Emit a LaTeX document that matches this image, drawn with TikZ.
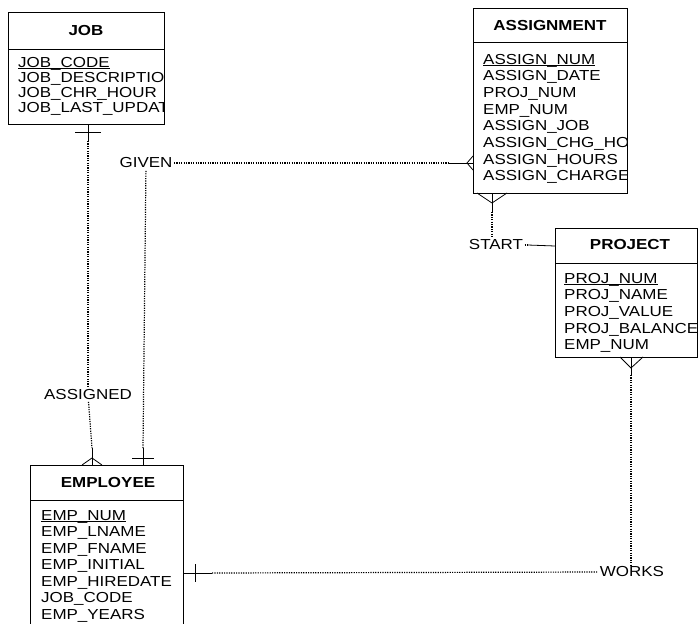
\documentclass[tikz,border=0pt]{standalone}
\usepackage{fontspec}
\setmainfont{Liberation Sans}[FakeStretch=1.17]
\usetikzlibrary{calc}
\newcommand{\pkey}[1]{\underline{\smash{#1}}}
\tikzset{
	tbl/.style={draw, line width=0.8pt, anchor=north west, inner sep=0pt},
	hdr/.style={inner sep=0pt, font=\fontsize{14.5}{16}\selectfont\bfseries},
	attr/.style={anchor=base west, inner sep=0pt, font=\fontsize{14.5}{16}\selectfont},
	rel/.style={inner sep=1.5pt, font=\fontsize{14.5}{16}\selectfont},
	solidline/.style={line width=0.8pt},
	dotline/.style={line width=1.2pt, dash pattern=on 1.2pt off 1.2pt}
}
\begin{document}
\begin{tikzpicture}[x=1pt, y=-1pt]
	\useasboundingbox (0,0) rectangle (699,624);

	% tables
	\node[tbl, minimum width=156pt, minimum height=112pt] (job) at (8,12) {};
	\draw[solidline] (8,49) -- (164,49);
	\node[hdr] (jobH) at (86,31) {JOB};
	\begin{scope}
		\clip (8,12) rectangle (164,124);
		\foreach \t [count=\i from 0] in {\pkey{JOB\_CODE}, JOB\_DESCRIPTION, JOB\_CHR\_HOUR, JOB\_LAST\_UPDATE}
			\node[attr] (job-\i) at (18,67+15.3*\i) {\t};
	\end{scope}

	\node[tbl, minimum width=154pt, minimum height=185pt] (asg) at (473,8) {};
	\draw[solidline] (473,42) -- (627,42);
	\node[hdr] (asgH) at (550,26) {ASSIGNMENT};
	\begin{scope}
		\clip (473,8) rectangle (627,193);
		\foreach \t [count=\i from 0] in {\pkey{ASSIGN\_NUM}, ASSIGN\_DATE, PROJ\_NUM, EMP\_NUM, ASSIGN\_JOB, ASSIGN\_CHG\_HOUR, ASSIGN\_HOURS, ASSIGN\_CHARGE}
			\node[attr] (asg-\i) at (483,64+16.7*\i) {\t};
	\end{scope}

	\node[tbl, minimum width=142pt, minimum height=129pt] (prj) at (555,228) {};
	\draw[solidline] (555,263) -- (697,263);
	\node[hdr] (prjH) at (630,245) {PROJECT};
	\begin{scope}
		\clip (555,228) rectangle (697,357);
		\foreach \t [count=\i from 0] in {\pkey{PROJ\_NUM}, PROJ\_NAME, PROJ\_VALUE, PROJ\_BALANCE, EMP\_NUM}
			\node[attr] (prj-\i) at (564,283+16.7*\i) {\t};
	\end{scope}

	\node[tbl, minimum width=153pt, minimum height=180pt] (emp) at (30,465) {};
	\draw[solidline] (30,500) -- (183,500);
	\node[hdr] (empH) at (108,483) {EMPLOYEE};
	\foreach \t [count=\i from 0] in {\pkey{EMP\_NUM}, EMP\_LNAME, EMP\_FNAME, EMP\_INITIAL, EMP\_HIREDATE, JOB\_CODE, EMP\_YEARS}
		\node[attr] (emp-\i) at (41,520+16.5*\i) {\t};

	% attach points
	\coordinate (jobB) at (88,124);
	\coordinate (empA) at (92,465);
	\coordinate (empG) at (143,465);
	\coordinate (empW) at (183,573);
	\coordinate (asgG) at (473,163);
	\coordinate (asgS) at (492,193);
	\coordinate (prjS) at (555,246);
	\coordinate (prjW) at (631,357);

	% relationship names
	\node[rel] (assigned) at (88,395) {ASSIGNED};
	\node[rel] (given) at (146,163) {GIVEN};
	\node[rel] (start) at (496,245) {START};
	\node[rel] (works) at (632,572) {WORKS};

	% ASSIGNED
	\draw[solidline] (jobB) -- ($(jobB)+(0,17)$) coordinate (jobB2);
	\draw[solidline] ($(jobB)+(-13,8)$) -- ($(jobB)+(13,8)$);
	\draw[dotline] (jobB2) -- (assigned);
	\coordinate (empA2) at ($(empA)+(0,-17)$);
	\draw[dotline] (assigned) -- (empA2);
	\draw[solidline] (empA2) -- (empA);
	\draw[solidline] ($(empA)+(-10,0)$) -- ($(empA)+(0,-7)$) -- ($(empA)+(10,0)$);

	% GIVEN
	\coordinate (empG2) at ($(empG)+(0,-17)$);
	\draw[solidline] (empG) -- (empG2);
	\draw[solidline] ($(empG)+(-11,-7)$) -- ($(empG)+(11,-7)$);
	\draw[dotline] (empG2) -- (given);
	\coordinate (asgG2) at ($(asgG)+(-25,0)$);
	\draw[dotline] (given) -- (asgG2);
	\draw[solidline] (asgG2) -- (asgG);
	\draw[solidline] ($(asgG)+(0,-7)$) -- ($(asgG)+(-6,0)$) -- ($(asgG)+(0,7)$);

	% START
	\coordinate (asgS2) at ($(asgS)+(0,19)$);
	\draw[solidline] (asgS) -- (asgS2);
	\draw[solidline] ($(asgS)+(-15,0)$) -- ($(asgS)+(0,10)$) -- ($(asgS)+(15,0)$);
	\draw[dotline] (asgS2) -- (start.north -| asgS);
	\draw[dotline] (start.east) -- ++(3,0) coordinate (start2);
	\draw[solidline] (start2) -- (prjS);

	% WORKS
	\coordinate (prjW2) at ($(prjW)+(0,18)$);
	\draw[solidline] (prjW) -- (prjW2);
	\draw[solidline] ($(prjW)+(-11,0)$) -- ($(prjW)+(0,11)$) -- ($(prjW)+(12,0)$);
	\draw[dotline] (prjW2) -- (works.north -| prjW);
	\coordinate (empW2) at ($(empW)+(29,0)$);
	\draw[solidline] (empW) -- (empW2);
	\draw[solidline] ($(empW)+(12,-9)$) -- ($(empW)+(12,9)$);
	\draw[dotline] (empW2) -- (works.west);
\end{tikzpicture}
\end{document}
